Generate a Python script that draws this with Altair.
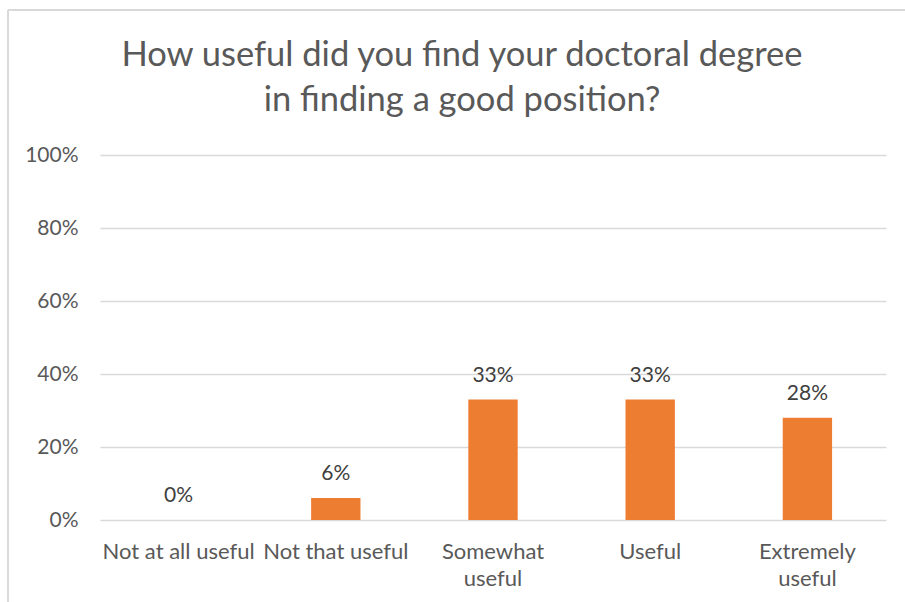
import altair as alt
import pandas as pd

categories = ["Not at all useful", "Not that useful", "Somewhat useful", "Useful", "Extremely useful"]
values = [0.0, 0.06, 0.33, 0.33, 0.28]
y_ticks = [0, 0.2, 0.4, 0.6, 0.8, 1.0]
title_lines = ["How useful did you find your doctoral degree", "in finding a good position?"]

df = pd.DataFrame({"category": categories, "value": values})

FONT = "Lato"
AXIS_COLOR = "#595959"

x_enc = alt.X(
    "category:N",
    sort=categories,
    scale=alt.Scale(paddingInner=0.686, paddingOuter=0.343),
    axis=alt.Axis(
        title=None,
        labelAngle=0,
        domain=False,
        ticks=False,
        labelPadding=21,
        labelFont=FONT,
        labelFontSize=22,
        labelColor=AXIS_COLOR,
        labelLineHeight=27,
        labelLimit=300,
        labelExpr="datum.label == 'Somewhat useful' ? ['Somewhat', 'useful'] : datum.label == 'Extremely useful' ? ['Extremely', 'useful'] : datum.label",
    ),
)
y_enc = alt.Y(
    "value:Q",
    scale=alt.Scale(domain=[0, 1]),
    axis=alt.Axis(
        title=None,
        values=y_ticks,
        format=".0%",
        domain=False,
        ticks=False,
        labelPadding=22,
        labelFont=FONT,
        labelFontSize=21,
        labelColor=AXIS_COLOR,
        gridColor="#d9d9d9",
        gridWidth=1.3,
    ),
)

bars = alt.Chart(df).mark_bar(color="#ED7D31").encode(x=x_enc, y=y_enc)
labels = alt.Chart(df).mark_text(
    font=FONT, fontSize=21, color="#404040", baseline="alphabetic", dy=-18
).encode(x=alt.X("category:N", sort=categories), y="value:Q", text=alt.Text("value:Q", format=".0%"))

border_left = alt.Chart(df).mark_rule(color="#d9d9d9", strokeWidth=1.3).encode(
    x=alt.value(-92), y=alt.value(-145), y2=alt.value(460)
)
border_top = alt.Chart(df).mark_rule(color="#d9d9d9", strokeWidth=1.3).encode(
    x=alt.value(-92), x2=alt.value(820), y=alt.value(-145)
)

chart = alt.layer(border_left, border_top, bars, labels).properties(
    width=786,
    height=365,
    autosize=alt.AutoSizeParams(type="none"),
    padding={"left": 100, "top": 155, "right": 19, "bottom": 82},
    title=alt.TitleParams(
        text=title_lines,
        font=FONT,
        fontSize=34.5,
        fontWeight="normal",
        color=AXIS_COLOR,
        lineHeight=45,
        anchor="middle",
        frame="group",
        dx=-31,
        offset=-109,
    ),
).configure(background="white", view=alt.ViewConfig(stroke=None))

chart.save("out.html", embed_options={"renderer": "svg", "actions": False})
